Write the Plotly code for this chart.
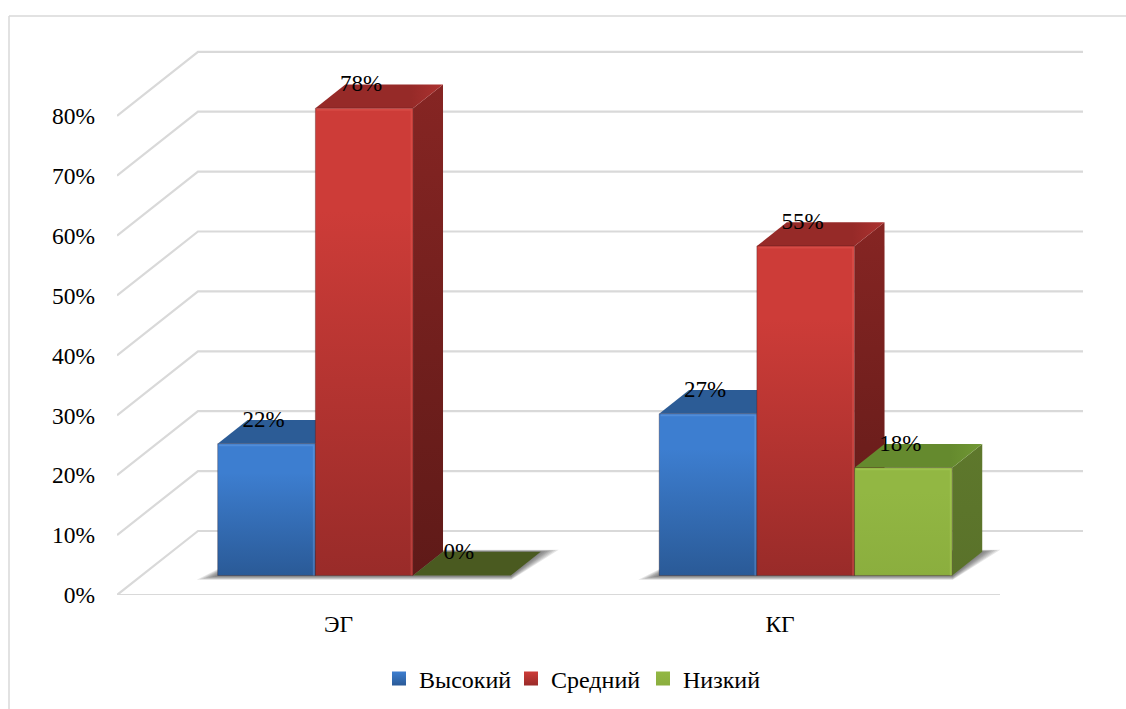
import plotly.graph_objects as go

# Chart values
groups = ["ЭГ", "КГ"]
series_names = ["Высокий", "Средний", "Низкий"]
high = [22, 27]
medium = [78, 55]
low = [0, 18]
tick_values = [0, 10, 20, 30, 40, 50, 60, 70, 80]
tick_labels = ["0%", "10%", "20%", "30%", "40%", "50%", "60%", "70%", "80%"]

# Face colours per series
blue = dict(front=("#3d7ed0", "#2a5a97"), roof=("#2c5c96", "#2f639f"), side=("#24507f", "#1e4470"),
            edge="rgba(120,170,235,0.35)")
red = dict(front=("#cd3c38", "#992b29"), roof=("#962a28", "#ad3230"), side=("#862523", "#5f1a18"),
           edge="rgba(235,100,95,0.35)")
green = dict(front=("#92b743", "#8bae3e"), roof=("#658a2e", "#719834"), side=("#5e782c", "#5a722a"),
             edge="rgba(175,210,95,0.4)")
flat_green = "#4a5a20"

# Oblique projection used for the pseudo-3D look
PX_X = 441.5       # pixels per group
PX_Y = 5.99        # pixels per percent
DEPTH_X = 81 / PX_X
DEPTH_Y = 64 / PX_Y
BAR_W = 97.7 / PX_X
NEAR = 0.305
FAR = NEAR + 0.37
GROUP_SHIFT = 1 / PX_X
GRID_COLOR = "#d9d9d9"
SERIF = "Liberation Serif"


def project(x, v, d=0.0):
    return x + d * DEPTH_X, v + d * DEPTH_Y


def polygon(points, **style):
    xs = [p[0] for p in points] + [points[0][0]]
    ys = [p[1] for p in points] + [points[0][1]]
    return go.Scatter(x=xs, y=ys, mode="lines", fill="toself", showlegend=False,
                      hoverinfo="skip", **style)


def stroke(points, color, width):
    return go.Scatter(x=[p[0] for p in points], y=[p[1] for p in points], mode="lines",
                      showlegend=False, hoverinfo="skip", line=dict(color=color, width=width))


def front_gradient(top, bottom):
    return dict(type="vertical", colorscale=[[0, bottom], [0.78, top], [1, top]])


def vertical(top, bottom):
    return dict(type="vertical", colorscale=[[0, bottom], [1, top]])


def horizontal(start, end):
    return dict(type="horizontal", colorscale=[[0, start], [0.75, start], [1, end]])


fig = go.Figure()

# Wall and floor grid
left = (117 - 338.5) / PX_X
right = (1083 - 338.5) / PX_X
floor_right = (1000 - 338.5) / PX_X
gx, gy = [], []
for t in tick_values:
    bx, by = project(left, t, 1)
    gx += [left, bx, right, None]
    gy += [t, by, by, None]
gx += [left, floor_right]
gy += [0, 0]
fig.add_trace(go.Scatter(x=gx, y=gy, mode="lines", showlegend=False, hoverinfo="skip",
                         line=dict(color=GRID_COLOR, width=2.2)))

# Soft shadow under each group of bars
for g, _ in enumerate(groups):
    x0 = g + GROUP_SHIFT - 1.5 * BAR_W
    x1 = g + GROUP_SHIFT + 1.5 * BAR_W
    for spread in (20, 17, 14, 11, 8, 5, 2):
        e = spread / PX_X
        lift = spread * 0.03
        fig.add_trace(polygon(
            [project(x0 - e, -lift, NEAR - 0.01), project(x1 + 0.003, -lift, NEAR - 0.01),
             project(x1 + e * 0.9, lift * 0.6, FAR), project(x0 + 0.02, lift * 0.6, FAR)],
            fillcolor="rgba(60,60,60,0.13)", line=dict(width=0)))

# Bars, drawn left to right so that each one covers its neighbour's side face
labels_x, labels_y, labels_text = [], [], []
for g, _ in enumerate(groups):
    for i, (vals, pal) in enumerate(((high, blue), (medium, red), (low, green))):
        v = vals[g]
        x0 = g + GROUP_SHIFT + (i - 1.5) * BAR_W
        x1 = x0 + BAR_W
        if v > 0:
            fig.add_trace(polygon(
                [project(x1, 0, NEAR), project(x1, 0, FAR), project(x1, v, FAR), project(x1, v, NEAR)],
                fillgradient=vertical(*pal["side"]), line=dict(width=0)))
            fig.add_trace(polygon(
                [project(x0, v, NEAR), project(x1, v, NEAR), project(x1, v, FAR), project(x0, v, FAR)],
                fillgradient=horizontal(*pal["roof"]), line=dict(width=0)))
            fig.add_trace(polygon(
                [project(x0, 0, NEAR), project(x1, 0, NEAR), project(x1, v, NEAR), project(x0, v, NEAR)],
                fillgradient=front_gradient(*pal["front"]),
                line=dict(width=1, color="rgba(50,20,20,0.30)")))
            # Bevel highlight along the top and right edges of the front face
            inset = 1.5 / PX_X
            drop = 1.5 / PX_Y
            fig.add_trace(stroke(
                [project(x0 + inset, v - drop, NEAR), project(x1 - inset, v - drop, NEAR),
                 project(x1 - inset, 0, NEAR)],
                pal["edge"], 2))
        else:
            fig.add_trace(polygon(
                [project(x0, v, NEAR), project(x1, v, NEAR), project(x1, v, FAR), project(x0, v, FAR)],
                fillcolor=flat_green, line=dict(width=0)))
        lx = project((x0 + x1) / 2 - 3 / PX_X, v, NEAR)[0]
        ly = project(x0, v, FAR)[1] - 1 / PX_Y
        labels_x.append(lx)
        labels_y.append(ly)
        labels_text.append(f"{v}%")

fig.add_trace(go.Scatter(x=labels_x, y=labels_y, text=labels_text, mode="text",
                         textposition="middle center", showlegend=False, hoverinfo="skip",
                         textfont=dict(family=SERIF, size=23, color="black"), cliponaxis=False))

# Legend entries
for name, pal in zip(series_names, (blue, red, green)):
    fig.add_trace(go.Scatter(
        x=[None], y=[None], mode="markers", name=name,
        marker=dict(symbol="square", size=14, color=pal["front"][0],
                    gradient=dict(type="vertical", color=pal["front"][1]),
                    line=dict(width=0))))

plot_l, plot_r, plot_t, plot_b = 117, 1083, 42, 595
fig.update_layout(
    width=1126, height=709, autosize=False,
    margin=dict(l=plot_l, r=1126 - plot_r, t=plot_t, b=709 - plot_b, pad=0),
    paper_bgcolor="white", plot_bgcolor="white",
    font=dict(family=SERIF, size=23.5, color="black"),
    showlegend=True,
    legend=dict(orientation="h", xref="container", yref="container",
                xanchor="left", yanchor="middle",
                x=379 / 1126, y=1 - 679 / 709,
                bgcolor="rgba(0,0,0,0)", font=dict(family=SERIF, size=24),
                entrywidth=87, entrywidthmode="pixels",
                itemsizing="trace", traceorder="normal"),
    xaxis=dict(range=[(plot_l - 338.5) / PX_X, (plot_r - 338.5) / PX_X],
               tickmode="array", tickvals=list(range(len(groups))), ticktext=groups,
               showgrid=False, zeroline=False, showline=False, ticks="",
               ticklabelstandoff=12, fixedrange=True),
    yaxis=dict(range=[0, (plot_b - plot_t) / PX_Y],
               tickmode="array", tickvals=tick_values, ticktext=tick_labels,
               showgrid=False, zeroline=False, showline=False, ticks="",
               ticklabelstandoff=21, fixedrange=True),
    shapes=[
        dict(type="line", xref="paper", yref="paper",
             x0=(9 - plot_l) / (plot_r - plot_l), x1=(9 - plot_l) / (plot_r - plot_l),
             y0=(plot_b - 16) / (plot_b - plot_t), y1=(plot_b - 709) / (plot_b - plot_t),
             line=dict(color=GRID_COLOR, width=1.5)),
        dict(type="line", xref="paper", yref="paper",
             x0=(9 - plot_l) / (plot_r - plot_l), x1=(1126 - plot_l) / (plot_r - plot_l),
             y0=(plot_b - 16) / (plot_b - plot_t), y1=(plot_b - 16) / (plot_b - plot_t),
             line=dict(color=GRID_COLOR, width=1.5)),
    ],
)

fig.write_html("out.html")
